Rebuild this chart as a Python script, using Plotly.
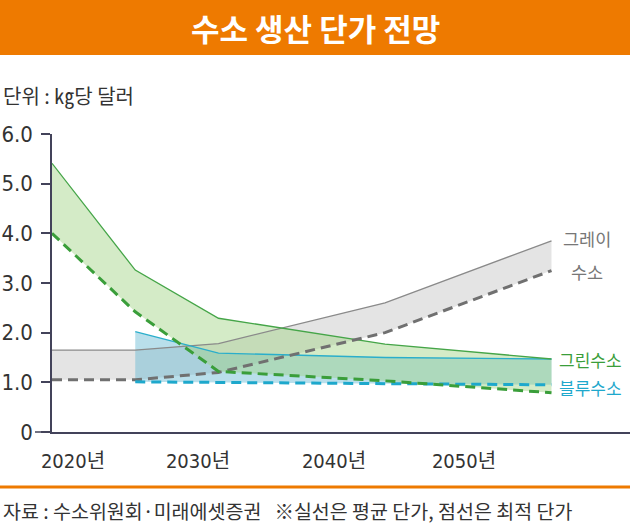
import plotly.graph_objects as go

# ---- data (USD per kg) ----
years = [2020, 2025, 2030, 2040, 2050]
years_blue = [2025, 2030, 2040, 2050]

grey_avg = [1.65, 1.65, 1.78, 2.60, 3.85]
grey_opt = [1.05, 1.05, 1.20, 2.00, 3.25]
green_avg = [5.41, 3.26, 2.29, 1.77, 1.47]
green_opt = [4.00, 2.42, 1.22, 1.03, 0.79]
blue_avg = [2.02, 1.59, 1.50, 1.47]
blue_opt = [1.01, 1.00, 0.97, 0.95]

y_ticks = [0, 1, 2, 3, 4, 5, 6]
y_tick_text = ["0", "1.0", "2.0", "3.0", "4.0", "5.0", "6.0"]
x_tick_text = ["2020년", "2030년", "2040년", "2050년"]

title = "수소 생산 단가 전망"
unit = "단위 : ㎏당 달러"
source = "자료 : 수소위원회·미래에셋증권   ※실선은 평균 단가, 점선은 최적 단가"

NUM_FONT = "DejaVu Sans Condensed, Liberation Sans Narrow, Roboto, Noto Sans CJK KR, sans-serif"
KR_FONT = "Noto Sans CJK KR, sans-serif"
AXIS = "#43435a"
ORANGE = "#ee7a00"

fig = go.Figure()

def band(x, lo, hi, color):
    fig.add_trace(go.Scatter(x=x, y=lo, mode="lines", line=dict(width=0),
                             hoverinfo="skip", showlegend=False))
    fig.add_trace(go.Scatter(x=x, y=hi, mode="lines", line=dict(width=0),
                             fill="tonexty", fillcolor=color,
                             hoverinfo="skip", showlegend=False))

band(years, grey_opt, grey_avg, "rgba(195,195,195,0.45)")
band(years_blue, blue_opt, blue_avg, "rgba(100,185,210,0.45)")
band(years, green_opt, green_avg, "rgba(160,210,130,0.45)")

def line(x, y, color, dashed):
    fig.add_trace(go.Scatter(
        x=x, y=y, mode="lines", showlegend=False, hoverinfo="skip",
        line=dict(color=color, width=3 if dashed else 1.3,
                  dash="10px,6px" if dashed else "solid")))

line(years, grey_avg, "#8a8a8a", False)
line(years_blue, blue_avg, "#2aaecb", False)
line(years, green_avg, "#45a548", False)
line(years, grey_opt, "#707070", True)
line(years_blue, blue_opt, "#1ea8cc", True)
line(years, green_opt, "#3a9e3a", True)

# pixel helpers (plot area: x 52..630, y 134..432)
L, R, T, B = 52, 630, 134, 432
def px(x):
    return (x - L) / (R - L)
def py(y):
    return (B - y) / (B - T)

x_per_px = (2050 - 2020) / (551.5 - 52)
def xdata(p):
    return 2020 + (p - 52) * x_per_px

fig.update_layout(
    width=630, height=530,
    margin=dict(l=L, r=630 - R, t=T, b=530 - B, autoexpand=False),
    plot_bgcolor="white", paper_bgcolor="white",
    xaxis=dict(range=[2020, xdata(630)], showgrid=False, zeroline=False,
               automargin=False,
               showline=True, linecolor=AXIS, linewidth=1.5,
               tickvals=[xdata(p) for p in (73, 198, 334, 464)],
               ticktext=x_tick_text, ticks="",
               tickfont=dict(family=NUM_FONT, size=20, color="#333333"),
               ticklabelstandoff=10),
    yaxis=dict(range=[0, 6], showgrid=False, zeroline=False,
               automargin=False,
               showline=True, linecolor=AXIS, linewidth=1.5,
               tickvals=y_ticks, ticktext=y_tick_text,
               ticks="outside", ticklen=9, tickcolor=AXIS, tickwidth=1.5,
               tickfont=dict(family=NUM_FONT, size=22, color="#333333"),
               ticklabelstandoff=4),
    shapes=[
        dict(type="rect", xref="paper", yref="paper", x0=px(0), x1=px(630),
             y0=py(55), y1=py(0), fillcolor=ORANGE, line=dict(width=0), layer="below"),
        dict(type="line", xref="paper", yref="paper", x0=px(0), x1=px(630),
             y0=py(487), y1=py(487), line=dict(color=ORANGE, width=3)),
        dict(type="line", xref="paper", yref="paper", x0=px(35), x1=px(52),
             y0=0, y1=0, line=dict(color=AXIS, width=1.5)),
    ],
    annotations=[
        dict(text=f"<b>{title}</b>", xref="paper", yref="paper", x=px(315), y=py(28),
             xanchor="center", yanchor="middle", showarrow=False,
             font=dict(family=KR_FONT, size=31, color="white")),
        dict(text=unit, xref="paper", yref="paper", x=px(1), y=py(95),
             xanchor="left", yanchor="middle", showarrow=False,
             font=dict(family=KR_FONT, size=20, color="#333333")),
        dict(text=source, xref="paper", yref="paper", x=px(1), y=py(510),
             xanchor="left", yanchor="middle", showarrow=False,
             font=dict(family=KR_FONT, size=19.5, color="#333333")),
        dict(text="그레이", xref="paper", yref="paper", x=px(587), y=py(238),
             xanchor="center", yanchor="middle", showarrow=False,
             font=dict(family=KR_FONT, size=17.5, color="#777777")),
        dict(text="수소", xref="paper", yref="paper", x=px(587), y=py(271),
             xanchor="center", yanchor="middle", showarrow=False,
             font=dict(family=KR_FONT, size=17.5, color="#777777")),
        dict(text="그린수소", xref="paper", yref="paper", x=px(590), y=py(359),
             xanchor="center", yanchor="middle", showarrow=False,
             font=dict(family=KR_FONT, size=17, color="#3a9e3a")),
        dict(text="블루수소", xref="paper", yref="paper", x=px(590), y=py(387),
             xanchor="center", yanchor="middle", showarrow=False,
             font=dict(family=KR_FONT, size=17, color="#1ea8cc")),
    ],
)

fig.write_html("out.html",
               config={"displayModeBar": False},
               post_script="document.body.style.margin='0';document.body.style.padding='0';")
